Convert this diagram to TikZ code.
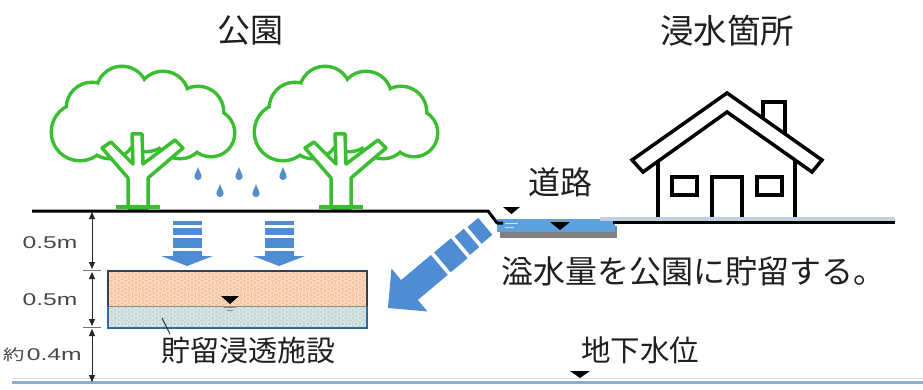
\documentclass[tikz,border=0pt]{standalone}
\usepackage{fontspec}
\setmainfont{Liberation Sans}
\newfontfamily\cjk{Noto Sans CJK JP}
\usetikzlibrary{arrows.meta}

\definecolor{treegreen}{RGB}{56,190,46}
\definecolor{flowblue}{RGB}{78,140,212}
\definecolor{dropblue}{RGB}{84,142,204}
\definecolor{waterblue}{RGB}{92,160,222}
\definecolor{gwblue}{RGB}{138,172,208}
\definecolor{peach}{RGB}{246,196,160}
\definecolor{peachmesh}{RGB}{252,228,210}
\definecolor{soilgray}{RGB}{196,214,214}
\definecolor{soilmesh}{RGB}{226,236,234}
\definecolor{boxedge}{RGB}{52,64,80}
\definecolor{boxblue}{RGB}{46,104,156}

\tikzset{
  jp/.style={font=\cjk\fontsize{#1}{#1}\selectfont, inner sep=0pt, text=black!88},
  jp/.default=30,
  dimlabel/.style={font=\fontsize{17}{19}\selectfont, inner sep=0pt, text=black!72, xscale=1.45},
  groundline/.style={line width=3pt, black, line join=round},
  houseline/.style={line width=3.5pt, black, line join=miter},
  dimline/.style={line width=0.9pt, black!85, {Triangle[length=7pt,width=6pt]}-{Triangle[length=7pt,width=6pt]}},
  tickline/.style={line width=0.8pt, black!55},
  level/.style={fill=black},
  % a tree: cloud canopy made of overlapping circles, trunk with three branches
  tree/.pic={
    \foreach \cx/\cy/\r in {-58/-76/27, -46/-100/24, -16/-116/24, 25/-111/24, 60/-96/24,
                            73/-75/22, 7/-88/30, -28/-75/24, 42/-75/24}
      \draw[treegreen, line width=7pt] (\cx,\cy) circle[radius=\r];
    \foreach \cx/\cy/\r in {-58/-76/27, -46/-100/24, -16/-116/24, 25/-111/24, 60/-96/24,
                            73/-75/22, 7/-88/30, -28/-75/24, 42/-75/24}
      \fill[white] (\cx,\cy) circle[radius=\r];
    \draw[treegreen, line width=3.5pt, fill=white, line join=round]
      (-10,0) -- (-10,-30) -- (-36,-60) -- (-27,-66) -- (-5,-44) -- (-6,-74)
      -- (4,-74) -- (5,-44) -- (37,-68) -- (45,-60) -- (10,-30) -- (10,0) -- cycle;
    \draw[treegreen, line width=4pt] (-22,-1) -- (22,-1);
  },
  % a falling rain drop
  drop/.pic={
    \fill[dropblue] (0,-8) .. controls (1,-4) and (3.6,-1) .. (3.6,1.5)
      arc[start angle=0, end angle=180, radius=3.6]
      .. controls (-3.6,-1) and (-1,-4) .. (0,-8) -- cycle;
  },
  % striped downward flow arrow
  flowdown/.pic={
    \fill[flowblue] (-14.5,0) rectangle (14.5,4);
    \fill[flowblue] (-14.5,7) rectangle (14.5,14);
    \fill[flowblue] (-14.5,17) rectangle (14.5,27);
    \fill[flowblue] (-14.5,30) rectangle (14.5,35.5);
    \fill[flowblue] (-26,35) -- (26,35) -- (0,45) -- cycle;
  }
}

\begin{document}
\begin{tikzpicture}[x=1pt,y=-1pt]
\useasboundingbox (0,0) rectangle (923,390);

% ---- titles ----
\node[jp=33] (park) at (250,31) {公園};
\node[jp=33.5] (flooded) at (727,31) {浸水箇所};

% ---- trees and rain ----
\pic (treeA) at (138,208) {tree};
\pic (treeB) at (341,208) {tree};
\foreach \dx/\dy [count=\k] in {198/175, 220/192, 239/175, 256/192, 283/175}
  \pic (rain\k) at (\dx,\dy) {drop};

% ---- house ----
\draw[houseline] (727,93) -- (632,160) -- (643,172) -- (727,112) -- (812,172) -- (822,160) -- cycle;
\draw[houseline] (763,118) -- (763,102) -- (785,102) -- (785,134);
\draw[houseline] (658,161) -- (658,222);
\draw[houseline] (795,160) -- (795,222);
\draw[houseline] (672,177) rectangle (697,195);
\draw[houseline] (757,177) rectangle (782,195);
\draw[houseline] (712,222) -- (712,177) -- (742,177) -- (742,222);

% ---- road with flooded gutter ----
\fill[black!50] (500,226) rectangle (617,238);
\fill[waterblue] (497,219) rectangle (615,232);
\draw[white!70!waterblue, line width=0.8pt] (505,223) -- (518,223) (505,227) -- (514,227);
\fill[gwblue!55] (600,217) rectangle (895,220.5);
\coordinate (g0) at (32,211);
\coordinate (g1) at (488,211);
\coordinate (g2) at (497,223);
\coordinate (g3) at (503,223);
\coordinate (g4) at (613,222);
\coordinate (g5) at (895,222);
\draw[groundline] (g0) -- (g1) -- (g2) -- (g3);
\draw[groundline] (g4) -- (g5);
\fill[level] (503,207) -- (520,207) -- (511.5,214) -- cycle;
\fill[level] (550,222) -- (570,222) -- (560,230) -- cycle;
\node[jp=32] (road) at (560,182) {道路};

% ---- infiltration flows ----
\pic (flowA) at (187,221) {flowdown};
\pic (flowB) at (279,221) {flowdown};

% ---- overflow arrow towards the park ----
\begin{scope}[shift={(388,308)}, rotate=40]
  \fill[flowblue] (0,0) -- (28,28) -- (28,13) -- (67,13) -- (67,-13) -- (28,-13) -- (28,-28) -- cycle;
  \fill[flowblue] (71,-13) rectangle (93,13);
  \fill[flowblue] (97,-12) rectangle (109,12);
  \fill[flowblue] (113,-11) rectangle (127,11);
\end{scope}
\node[jp=32] (overflow) at (693,271) {溢水量を公園に貯留する。};

% ---- storage / infiltration facility ----
\begin{scope}
  \clip (108,271) rectangle (367,306);
  \fill[peach] (108,271) rectangle (367,306);
  \foreach \i in {0,...,38} \foreach \j in {0,...,6}
    \draw[peachmesh, line width=0.9pt] ({108+\i*7+mod(\j,2)*3.5},{271+\j*6}) circle[radius=2.5];
\end{scope}
\begin{scope}
  \clip (108,306) rectangle (367,328);
  \fill[soilgray] (108,306) rectangle (367,328);
  \foreach \i in {0,...,38} \foreach \j in {0,...,4}
    \draw[soilmesh, line width=0.9pt] ({108+\i*7+mod(\j,2)*3.5},{306+\j*6}) circle[radius=2.5];
\end{scope}
\draw[black!45, line width=1pt] (108,306) -- (367,306);
\draw[boxblue, line width=1.6pt] (108,306) -- (108,328) -- (367,328) -- (367,306);
\draw[boxedge, line width=1.6pt] (108,306) -- (108,271) -- (367,271) -- (367,306);
\fill[level] (221,296) -- (239,296) -- (230,304) -- cycle;
\draw[black!45, line width=1pt] (224,307) -- (236,307) (227,310) -- (233,310);
\coordinate (leadA) at (162,318);
\coordinate (leadB) at (170,334);
\draw[black!80, line width=0.9pt] (leadA) -- (leadB);
\node[jp=29] (facility) at (248,350) {貯留浸透施設};

% ---- groundwater level ----
\coordinate (w0) at (12,382);
\coordinate (w1) at (923,382);
\draw[gwblue, line width=3pt] (w0) -- (w1);
\draw[gwblue!40, line width=1pt] (12,378.5) -- (923,378.5);
\fill[level] (570,371) -- (590,371) -- (580,378) -- cycle;
\node[jp=29.5] (gwlevel) at (640,350) {地下水位};

% ---- depth dimensions ----
\coordinate (d0) at (92,212);
\coordinate (d1) at (92,269);
\coordinate (d2) at (92,272);
\coordinate (d3) at (92,326);
\coordinate (d4) at (92,329);
\coordinate (d5) at (92,382);
\draw[dimline] (d0) -- (d1);
\draw[dimline] (d2) -- (d3);
\draw[dimline] (d4) -- (d5);
\draw[tickline] (83,270.5) -- (101,270.5);
\draw[tickline] (83,327.5) -- (101,327.5);
\node[dimlabel] (dimA) at (50,243) {0.5m};
\node[dimlabel] (dimB) at (50,300) {0.5m};
\node[dimlabel, anchor=east] (dimC) at (82,355) {{\cjk\fontsize{15}{17}\selectfont 約}\hspace{1.5pt}0.4m};
\end{tikzpicture}
\end{document}
